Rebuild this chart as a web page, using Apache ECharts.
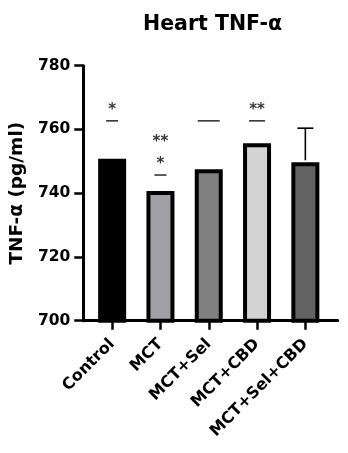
<!DOCTYPE html>
<html>
<head>
<meta charset="utf-8">
<script src="https://cdn.jsdelivr.net/npm/echarts@6/dist/echarts.min.js"></script>
<style>
  html, body { margin: 0; padding: 0; background: #fff; }
  #chart { width: 348px; height: 453px; }
</style>
</head>
<body>
<div id="chart"></div>
<script>
// Group names and measured TNF-α levels (pg/ml)
const categories = ['Control', 'MCT', 'MCT+Sel', 'MCT+CBD', 'MCT+Sel+CBD'];
const means = [750.8, 740.7, 747.5, 755.7, 749.7];
const sdErrors = [0, 0, 0, 0, 10.7];

// Y axis ticks
const yTicks = [700, 720, 740, 760, 780];

// Significance brackets (horizontal dashes) and star labels
const dashCats = ['Control', 'MCT', 'MCT+Sel', 'MCT+CBD'];
const dashLevels = [762.7, 745.7, 762.7, 762.7];
const starCats = ['Control', 'MCT', 'MCT', 'MCT+CBD'];
const starLevels = [767, 756.9, 750.1, 767];
const starTexts = ['*', '**', '*', '**'];

// Styling
const fills = ['#000000', '#a1a1a5', '#808080', '#d3d3d3', '#626262'];
const dashWidths = { 'Control': 12, 'MCT': 12, 'MCT+Sel': 22, 'MCT+CBD': 16 };
const FONT = 'DejaVu Sans';

const yMin = yTicks[0], yMax = yTicks[yTicks.length - 1];
const frame = { left: 80, right: 10.3, top: 65.7, bottom: 132.3 };
const plot = { left: 88, right: 18.5, top: 65.7, bottom: 132.3 };

const chart = echarts.init(document.getElementById('chart'), null, { renderer: 'canvas' });

chart.setOption({
  animation: false,
  backgroundColor: '#ffffff',
  title: {
    text: 'Heart TNF-α',
    left: 138,
    top: 9,
    textStyle: { fontFamily: FONT, fontWeight: 'bold', fontSize: 20.5, color: '#000' }
  },
  grid: [frame, plot],
  xAxis: [
    {
      // frame x-axis: only its baseline is shown
      gridIndex: 0, type: 'value', min: 0, max: 1,
      axisLine: { show: true, lineStyle: { color: '#000', width: 3 } },
      axisTick: { show: false }, axisLabel: { show: false }, splitLine: { show: false }
    },
    {
      gridIndex: 1, type: 'category', data: categories,
      axisLine: { show: false },
      axisTick: { show: true, alignWithLabel: true, length: 9, lineStyle: { color: '#000', width: 2.5 } },
      axisLabel: {
        rotate: 45, margin: 21, interval: 0,
        fontFamily: FONT, fontWeight: 'bold', fontSize: 16, color: '#000'
      },
      splitLine: { show: false }
    }
  ],
  yAxis: [
    {
      gridIndex: 0, type: 'value', min: yMin, max: yMax, interval: 20,
      name: 'TNF-α (pg/ml)', nameLocation: 'middle', nameRotate: 90, nameGap: 52,
      nameTextStyle: { fontFamily: FONT, fontWeight: 'bold', fontSize: 18.5, color: '#000' },
      axisLine: { show: true, lineStyle: { color: '#000', width: 3 } },
      axisTick: { show: true, length: 9, lineStyle: { color: '#000', width: 2.5 } },
      axisLabel: { margin: 13, fontFamily: FONT, fontWeight: 'bold', fontSize: 15.5, color: '#000' },
      splitLine: { show: false }
    },
    {
      gridIndex: 1, type: 'value', min: yMin, max: yMax, interval: 20,
      show: false, splitLine: { show: false }
    }
  ],
  series: [
    {
      type: 'bar', xAxisIndex: 1, yAxisIndex: 1,
      barWidth: 28,
      data: means.map((v, i) => ({
        value: v,
        itemStyle: { color: fills[i], borderColor: '#000', borderWidth: 4 }
      })),
      z: 2
    },
    {
      // SD error bars (upper whisker only)
      type: 'custom', xAxisIndex: 1, yAxisIndex: 1,
      data: means.map((v, i) => [i, v, sdErrors[i]]),
      renderItem: function (params, api) {
        const err = api.value(2);
        if (!err) return null;
        const x = api.value(0), m = api.value(1);
        const base = api.coord([x, m]);
        const top = api.coord([x, m + err]);
        const half = 8;
        return {
          type: 'group',
          children: [
            { type: 'line', shape: { x1: base[0], y1: base[1] - 2, x2: top[0], y2: top[1] },
              style: { stroke: '#000', lineWidth: 1.6 } },
            { type: 'line', shape: { x1: top[0] - half, y1: top[1], x2: top[0] + half, y2: top[1] },
              style: { stroke: '#000', lineWidth: 1.6 } }
          ]
        };
      },
      z: 1
    },
    {
      // significance dashes
      type: 'scatter', xAxisIndex: 1, yAxisIndex: 1,
      symbol: 'rect',
      data: dashCats.map((c, i) => ({
        value: [c, dashLevels[i]],
        symbolSize: [dashWidths[c], 1.6]
      })),
      itemStyle: { color: '#000' },
      z: 3
    },
    {
      // significance stars
      type: 'scatter', xAxisIndex: 1, yAxisIndex: 1,
      symbolSize: 0,
      data: starCats.map((c, i) => ({ value: [c, starLevels[i]], name: starTexts[i] })),
      label: {
        show: true, position: 'inside',
        formatter: p => p.name,
        fontFamily: FONT, fontWeight: 'bold', fontSize: 15, color: '#000',
        offset: [0, 3]
      },
      z: 3
    }
  ]
});
</script>
</body>
</html>
